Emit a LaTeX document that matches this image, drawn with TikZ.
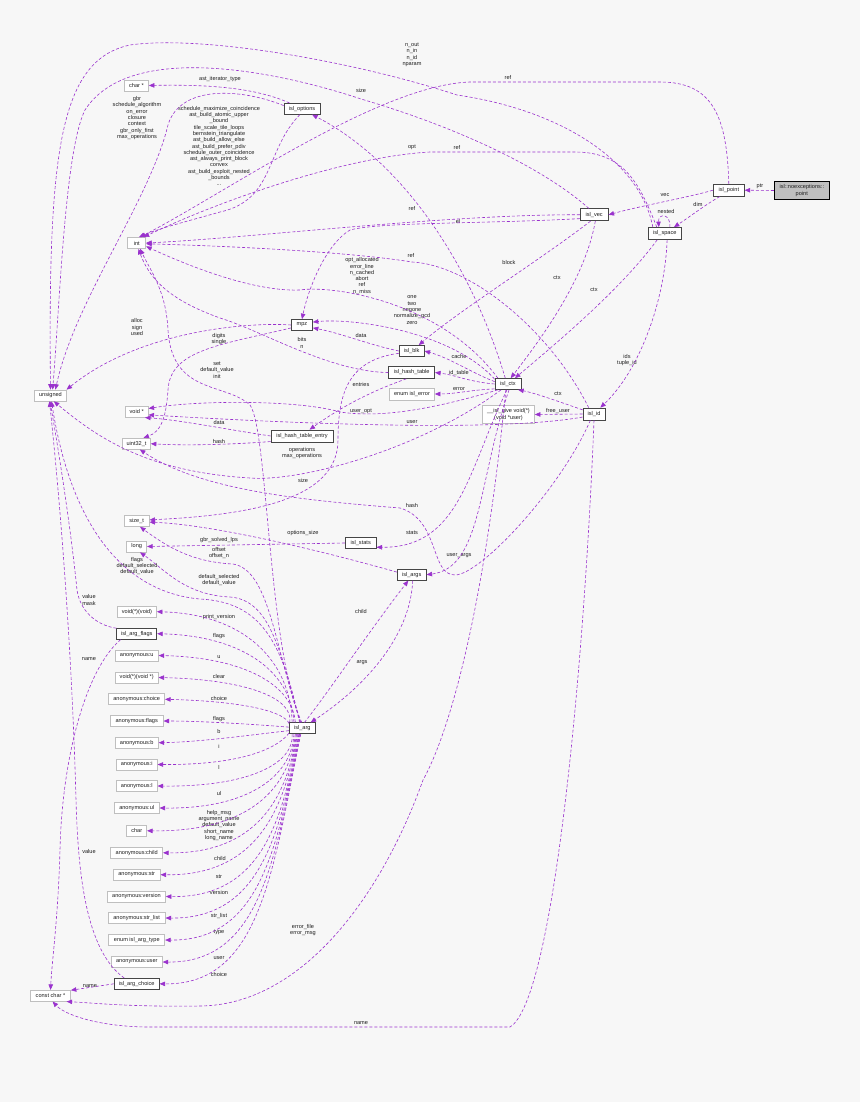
\documentclass[tikz,border=0pt]{standalone}
\usepackage{fontspec}
\newfontfamily\dfont{Liberation Sans}
\usetikzlibrary{arrows.meta}
\definecolor{bgc}{RGB}{247,247,247}
\definecolor{eclr}{RGB}{154,50,205}
\definecolor{sbord}{RGB}{70,70,70}
\definecolor{tbord}{RGB}{191,191,191}
\definecolor{rootfill}{RGB}{191,191,191}
\definecolor{txt}{RGB}{30,30,30}
\newcommand{\dsize}{\dfont\fontsize{5.6}{6.3}\selectfont}
\tikzset{
 base/.style={rectangle, inner sep=0pt, font=\dsize, text=txt, align=center, minimum height=11pt, line width=0.7pt},
 sbox/.style={base, draw=sbord, fill=white},
 tbox/.style={base, draw=tbord, fill=white},
 rbox/.style={base, draw=black, fill=rootfill, minimum height=17.5pt},
 lbl/.style={font=\dsize, text=txt, align=center, inner sep=0pt},
 conn/.style={draw=eclr, line width=0.6pt, dash pattern=on 3pt off 2pt, -{Triangle[length=5.5pt,width=4.5pt]}},
}
\begin{document}
\begin{tikzpicture}[x=1pt,y=-1pt]
\fill[bgc] (0,0) rectangle (860,1102);
\useasboundingbox (0,0) rectangle (860,1102);
% ---------- nodes
\node[rbox, minimum width=55pt] (root) at (801.8,190.5) {isl::noexceptions::\\point};
\node[sbox, minimum width=31pt, minimum height=12pt] (ipt) at (728.8,190.2) {isl\_point};
\node[sbox, minimum width=28pt, minimum height=12pt] (vec) at (594.2,214.8) {isl\_vec};
\node[sbox, minimum width=33pt, minimum height=12pt] (space) at (664.8,233.5) {isl\_space};
\node[sbox, minimum width=36pt] (opts) at (302,108.8) {isl\_options};
\node[tbox, minimum width=24pt] (charp) at (136.5,85.5) {char *};
\node[tbox, minimum width=18pt] (nint) at (136.8,243) {int};
\node[tbox, minimum width=32pt] (uns) at (50.5,395.5) {unsigned};
\node[sbox, minimum width=21pt] (mpz) at (302,325) {mpz};
\node[sbox, minimum width=25pt] (blk) at (411.7,351) {isl\_blk};
\node[sbox, minimum width=46pt, minimum height=12pt] (ht) at (411.7,372.5) {isl\_hash\_table};
\node[tbox, minimum width=45pt, minimum height=12pt] (err) at (412,394) {enum isl\_error};
\node[sbox, minimum width=26pt] (ctx) at (508,384) {isl\_ctx};
\node[tbox, minimum width=52pt, minimum height=18pt] (give) at (508.5,414.5) {\_\_isl\_give void(*)\\(void *user)};
\node[sbox, minimum width=22pt, minimum height=12pt] (id) at (594,414) {isl\_id};
\node[tbox, minimum width=23pt] (voidp) at (136.7,411.7) {void *};
\node[tbox, minimum width=28pt] (u32) at (136.5,443.7) {uint32\_t};
\node[sbox, minimum width=62pt, minimum height=12pt] (hte) at (302,436) {isl\_hash\_table\_entry};
\node[tbox, minimum width=25pt] (sizet) at (136.7,521) {size\_t};
\node[tbox, minimum width=20pt] (nlong) at (136.7,546.5) {long};
\node[sbox, minimum width=31pt] (stats) at (360.7,543) {isl\_stats};
\node[sbox, minimum width=29pt] (args) at (411.7,574.7) {isl\_args};
\node[sbox, minimum width=26pt] (arg) at (302.3,728.3) {isl\_arg};
\node[tbox, minimum width=39pt] (vfn) at (137,611.7) {void(*)(void)};
\node[sbox, minimum width=40pt] (aflags) at (136.8,633.7) {isl\_arg\_flags};
\node[tbox, minimum width=43pt] (anu) at (136.8,655.5) {anonymous:u};
\node[tbox, minimum width=43pt] (vfnp) at (136.7,677.5) {void(*)(void *)};
\node[tbox, minimum width=56pt] (ach) at (136.7,699.3) {anonymous:choice};
\node[tbox, minimum width=53pt] (afl) at (136.7,721) {anonymous:flags};
\node[tbox, minimum width=43pt] (ab) at (136.8,742.7) {anonymous:b};
\node[tbox, minimum width=41pt] (ai) at (136.7,764.5) {anonymous:i};
\node[tbox, minimum width=41pt] (al) at (136.7,786) {anonymous:l};
\node[tbox, minimum width=45pt] (aul) at (136.7,808) {anonymous:ul};
\node[tbox, minimum width=20pt] (chr) at (136.7,830.8) {char};
\node[tbox, minimum width=52pt] (achild) at (136.7,852.8) {anonymous:child};
\node[tbox, minimum width=47pt] (astr) at (136.7,874.7) {anonymous:str};
\node[tbox, minimum width=58pt] (aver) at (136.5,896.5) {anonymous:version};
\node[tbox, minimum width=57pt] (asl) at (136.7,918) {anonymous:str\_list};
\node[tbox, minimum width=56pt] (eat) at (136.8,940) {enum isl\_arg\_type};
\node[tbox, minimum width=51pt] (auser) at (136.8,962) {anonymous:user};
\node[sbox, minimum width=45pt] (ach2) at (136.7,983.8) {isl\_arg\_choice};
\node[tbox, minimum width=40pt] (cchar) at (50.5,995.7) {const char *};
% ---------- labels
\node[lbl] (lptr) at (760,186) {ptr};
\node[lbl] (lvec) at (665,195) {vec};
\node[lbl] (ldim) at (698,204) {dim};
\node[lbl] (lnest) at (666,211) {nested};
\node[lbl] (lrefpt) at (508,78) {ref};
\node[lbl] (lrefsp) at (457,148) {ref};
\node[lbl] (lopt) at (412,147) {opt};
\node[lbl] (lrefvec) at (412,209) {ref};
\node[lbl] (lel) at (458,221) {el};
\node[lbl] (lsize) at (361,91) {size};
\node[lbl] (lnout) at (412,54.7) {n\_out\\n\_in\\n\_id\\nparam};
\node[lbl] (last) at (220,79) {ast\_iterator\_type};
\node[lbl] (lsched) at (219,146) {schedule\_maximize\_coincidence\\ast\_build\_atomic\_upper\\\_bound\\tile\_scale\_tile\_loops\\bernstein\_triangulate\\ast\_build\_allow\_else\\ast\_build\_prefer\_pdiv\\schedule\_outer\_coincidence\\ast\_always\_print\_block\\convex\\ast\_build\_exploit\_nested\\\_bounds\\...};
\node[lbl] (lgbr) at (137,118) {gbr\\schedule\_algorithm\\on\_error\\closure\\context\\gbr\_only\_first\\max\_operations};
\node[lbl] (lblock) at (509,262) {block};
\node[lbl] (lctxv) at (557,278) {ctx};
\node[lbl] (lctxs) at (594,290) {ctx};
\node[lbl] (lids) at (627,360) {ids\\tuple\_id};
\node[lbl] (lrefid) at (411,256) {ref};
\node[lbl] (loptall) at (362,276) {opt\_allocated\\error\_line\\n\_cached\\abort\\ref\\n\_miss};
\node[lbl] (lone) at (412,310) {one\\two\\negone\\normalize\_gcd\\zero};
\node[lbl] (ldata) at (361,335) {data};
\node[lbl] (lbits) at (302,343) {bits\\n};
\node[lbl] (lalloc) at (137,327) {alloc\\sign\\used};
\node[lbl] (ldigits) at (219,339) {digits\\single};
\node[lbl] (lset) at (217,370) {set\\default\_value\\init};
\node[lbl] (lcache) at (459,356) {cache};
\node[lbl] (lidt) at (459,373) {id\_table};
\node[lbl] (lerror) at (459,389) {error};
\node[lbl] (lctxid) at (558,394) {ctx};
\node[lbl] (lfree) at (558,411) {free\_user};
\node[lbl] (luopt) at (361,411) {user\_opt};
\node[lbl] (luser) at (412,422) {user};
\node[lbl] (lentries) at (361,384) {entries};
\node[lbl] (ldatah) at (219,422) {data};
\node[lbl] (lhashh) at (219,441) {hash};
\node[lbl] (loper) at (302,453) {operations\\max\_operations};
\node[lbl] (lsizeb) at (303,480) {size};
\node[lbl] (lhashid) at (412,505) {hash};
\node[lbl] (lstats) at (412,533) {stats};
\node[lbl] (loptsz) at (303,533) {options\_size};
\node[lbl] (lgbrlps) at (219,540) {gbr\_solved\_lps};
\node[lbl] (loffset) at (219,553) {offset\\offset\_n};
\node[lbl] (luargs) at (459,556) {user\_args};
\node[lbl] (lflagsu) at (137,566) {flags\\default\_selected\\default\_value};
\node[lbl] (ldsl) at (219,580) {default\_selected\\default\_value};
\node[lbl] (lchild) at (361,611) {child};
\node[lbl] (largs) at (362,663) {args};
\node[lbl] (lvalmask) at (89,600) {value\\mask};
\node[lbl] (lnamef) at (89,659) {name};
\node[lbl] (lvalc) at (89,851) {value};
\node[lbl] (lnamec) at (90,986) {name};
\node[lbl] (lerrf) at (303,930) {error\_file\\error\_msg};
\node[lbl] (lnameid) at (361,1023) {name};
\node[lbl] (f1) at (219,617) {print\_version};
\node[lbl] (f2) at (219,636) {flags};
\node[lbl] (f3) at (219,657) {u};
\node[lbl] (f4) at (219,676) {clear};
\node[lbl] (f5) at (219,698) {choice};
\node[lbl] (f6) at (219,719) {flags};
\node[lbl] (f7) at (219,731) {b};
\node[lbl] (f8) at (219,746) {i};
\node[lbl] (f9) at (219,767) {l};
\node[lbl] (f10) at (219,793) {ul};
\node[lbl] (f11) at (219,825.5) {help\_msg\\argument\_name\\default\_value\\short\_name\\long\_name};
\node[lbl] (f12) at (220,858) {child};
\node[lbl] (f13) at (219,877) {str};
\node[lbl] (f14) at (219,892) {version};
\node[lbl] (f15) at (219,916) {str\_list};
\node[lbl] (f16) at (219,932) {type};
\node[lbl] (f17) at (219,958) {user};
\node[lbl] (f18) at (219,974) {choice};
% ---------- edges
\draw[conn] (root.west) -- (ipt.east);
\draw[conn] (ipt.west) .. controls (690,197) and (640,206) .. (vec.east);
\draw[conn] (ipt.215) .. controls (705,205) and (688,218) .. (space.35);
\draw[conn] ([xshift=5pt]space.north) .. controls (671,213) and (658,213) .. ([xshift=-6pt]space.north);
\draw[conn] (ipt.north) .. controls (727,115) and (712,82) .. (660,82) -- (470,82) .. controls (380,85) and (230,190) .. (nint.60);
\draw[conn] ([xshift=-8pt]space.north) .. controls (640,185) and (625,152) .. (575,152) -- (430,152) .. controls (340,157) and (210,205) .. (nint.40);
\draw[conn] (vec.west) .. controls (450,214) and (250,238) .. (nint.east);
\draw[conn] (vec.195) .. controls (480,224) and (380,222) .. (350,230) .. controls (325,245) and (308,290) .. (mpz.north);
\draw[conn] (vec.130) .. controls (540,165) and (450,125) .. (361,99) .. controls (280,72) and (130,40) .. (85,110) .. controls (65,150) and (60,300) .. (uns.70);
\draw[conn] ([xshift=-12pt]space.north) .. controls (640,160) and (560,110) .. (457,95) .. controls (350,60) and (200,35) .. (130,45) .. controls (60,60) and (48,150) .. (uns.north);
\draw[conn] (opts.155) .. controls (260,90) and (220,84) .. (charp.east);
\draw[conn] (opts.250) .. controls (265,150) and (275,200) .. (220,212) .. controls (185,222) and (160,228) .. (nint.70);
\draw[conn] (opts.170) .. controls (240,88) and (180,85) .. (168,125) .. controls (150,200) and (75,300) .. (uns.50);
\draw[conn] (ctx.115) .. controls (470,260) and (400,160) .. (opts.-30);
\draw[conn] (space.-140) .. controls (620,290) and (560,340) .. (ctx.40);
\draw[conn] (vec.-80) .. controls (585,280) and (540,340) .. (ctx.65);
\draw[conn] (vec.-120) .. controls (540,260) and (460,310) .. (blk.40);
\draw[conn] (space.-70) .. controls (665,300) and (640,370) .. (id.45);
\draw[conn] (id.160) .. controls (560,402) and (535,393) .. (ctx.-30);
\draw[conn] (id.west) -- (give.east);
\draw[conn] (id.195) .. controls (500,432) and (300,424) .. (voidp.-15);
\draw[conn] (id.130) .. controls (550,330) and (470,265) .. (412,262) .. controls (350,252) and (230,246) .. (nint.-5);
\draw[conn] (id.-120) .. controls (560,490) and (480,575) .. (455,575) .. controls (430,575) and (440,520) .. (400,508) .. controls (300,500) and (200,490) .. (u32.-60);
\draw[conn] (id.-90) .. controls (585,650) and (555,1000) .. (510,1027) -- (150,1027) .. controls (100,1027) and (65,1015) .. (cchar.-70);
\draw[conn] (ctx.150) .. controls (440,300) and (330,285) .. (300,290) .. controls (250,292) and (180,262) .. (nint.-20);
\draw[conn] (ctx.160) .. controls (450,330) and (350,318) .. (mpz.15);
\draw[conn] (blk.west) .. controls (370,345) and (340,333) .. (mpz.-15);
\draw[conn] (ctx.170) .. controls (470,372) and (450,358) .. (blk.east);
\draw[conn] (ctx.west) .. controls (470,382) and (455,375) .. (ht.east);
\draw[conn] (ctx.200) .. controls (470,390) and (455,394) .. (err.east);
\draw[conn] (ctx.210) .. controls (430,410) and (380,418) .. (340,412) .. controls (300,400) and (200,400) .. (voidp.15);
\draw[conn] (hte.west) .. controls (230,430) and (180,420) .. (voidp.-35);
\draw[conn] (hte.190) .. controls (240,444) and (190,446) .. (u32.east);
\draw[conn] (ht.-130) .. controls (360,395) and (330,415) .. (hte.40);
\draw[conn] (ht.west) .. controls (330,372) and (260,330) .. (220,318) .. controls (170,300) and (150,280) .. (nint.-75);
\draw[conn] (mpz.west) .. controls (250,322) and (140,330) .. (uns.20);
\draw[conn] (mpz.195) .. controls (220,345) and (170,350) .. (168,390) .. controls (166,420) and (160,432) .. (u32.40);
\draw[conn] (ctx.220) .. controls (420,450) and (300,482) .. (250,478) .. controls (150,472) and (100,440) .. (uns.-60);
\draw[conn] (ctx.-110) .. controls (480,650) and (440,750) .. (423,780) .. controls (380,900) and (300,1005) .. (200,1006) .. controls (130,1007) and (95,1003) .. (cchar.-20);
\draw[conn] (ctx.-80) .. controls (478,480) and (482,568) .. (args.east);
\draw[conn] (ctx.-100) .. controls (468,470) and (460,548) .. (stats.-15);
\draw[conn] (stats.west) -- (nlong.east);
\draw[conn] (args.170) .. controls (340,556) and (220,525) .. (sizet.-5);
\draw[conn] (blk.190) .. controls (350,360) and (338,390) .. (338,440) .. controls (338,500) and (250,515) .. (sizet.5);
\draw[conn] (args.-80) .. controls (410,640) and (360,690) .. (arg.35);
\draw[conn] (arg.70) .. controls (330,690) and (370,630) .. (args.-120);
\draw[conn] (arg.95) .. controls (268,650) and (268,430) .. (250,405) .. controls (225,382) and (172,395) .. (168,330) .. controls (166,290) and (150,270) .. (nint.-60);
\draw[conn] (arg.105) .. controls (275,650) and (270,570) .. (233,564) .. controls (190,562) and (165,545) .. (sizet.-60);
\draw[conn] (arg.110) .. controls (280,650) and (270,600) .. (230,597) .. controls (185,595) and (165,570) .. (nlong.-60);
\draw[conn] (arg.115) .. controls (282,640) and (260,602) .. (200,599) .. controls (120,592) and (70,520) .. (uns.-80);
\draw[conn] (aflags.165) .. controls (95,625) and (80,610) .. (77,590) .. controls (72,540) and (62,470) .. (uns.-95);
\draw[conn] (aflags.200) .. controls (85,670) and (62,760) .. (60,850) .. controls (58,920) and (52,960) .. (cchar.north);
\draw[conn] (ach2.west) -- (cchar.15);
\draw[conn] (ach2.155) .. controls (85,950) and (78,870) .. (76,800) .. controls (72,650) and (60,500) .. (uns.-100);
% fan from isl_arg
\draw[conn] (arg.150) .. controls (290.5,661.5) and (245,614) .. (vfn.east);
\draw[conn] (arg.145) .. controls (291.6,673.6) and (245,636) .. (aflags.east);
\draw[conn] (arg.140) .. controls (292.7,685.4) and (245,657.5) .. (anu.east);
\draw[conn] (arg.155) .. controls (293.8,697.5) and (245,679.5) .. (vfnp.east);
\draw[conn] (arg.160) .. controls (285,712) and (245,701.3) .. (ach.east);
\draw[conn] (arg.175) .. controls (250,724) and (200,721) .. (afl.east);
\draw[conn] (arg.190) .. controls (250,735) and (200,742) .. (ab.east);
\draw[conn] (arg.200) .. controls (280,745) and (250,765) .. (ai.east);
\draw[conn] (arg.210) .. controls (294.4,763) and (250,787) .. (al.east);
\draw[conn] (arg.215) .. controls (292,775) and (250,809) .. (aul.east);
\draw[conn] (arg.220) .. controls (289.5,787.7) and (250,832) .. (chr.east);
\draw[conn] (arg.225) .. controls (287,799.8) and (255,854) .. (achild.east);
\draw[conn] (arg.230) .. controls (284.6,811.8) and (255,876) .. (astr.east);
\draw[conn] (arg.235) .. controls (282.2,823.8) and (260,898) .. (aver.east);
\draw[conn] (arg.240) .. controls (279.9,835.7) and (260,919) .. (asl.east);
\draw[conn] (arg.245) .. controls (277.5,847.8) and (260,941) .. (eat.east);
\draw[conn] (arg.250) .. controls (275,859.9) and (260,963) .. (auser.east);
\draw[conn] (arg.255) .. controls (272.6,871.8) and (260,985) .. (ach2.east);
\end{tikzpicture}
\end{document}
